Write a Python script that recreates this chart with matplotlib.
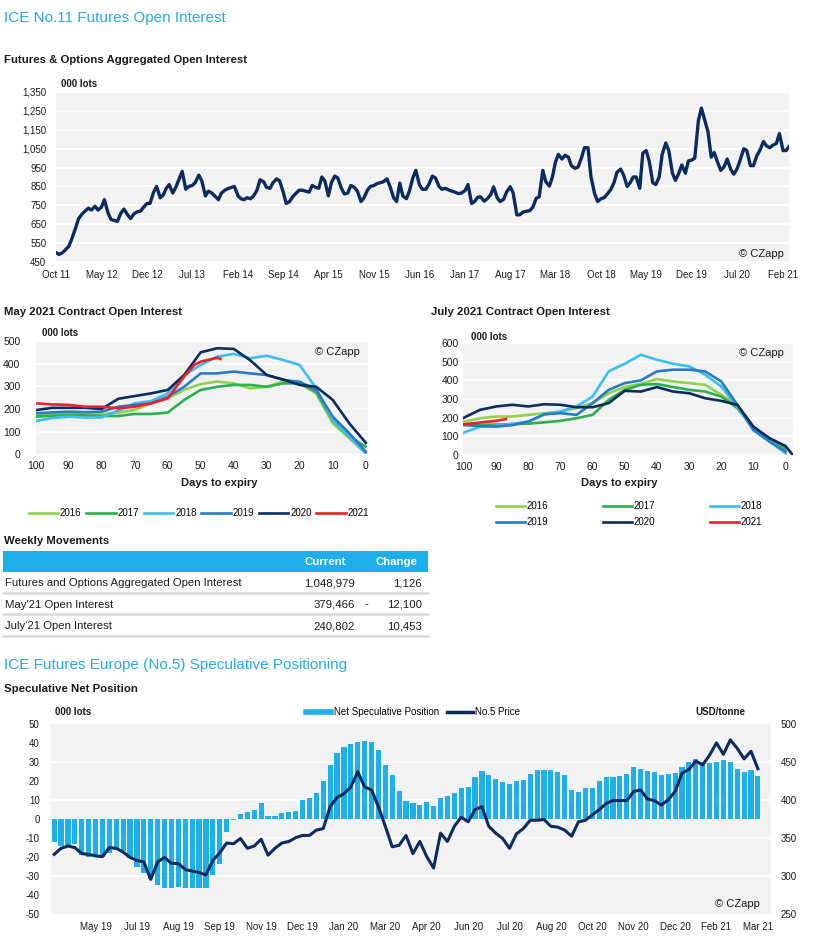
import numpy as np
import pandas as pd
import matplotlib
matplotlib.use('Agg')
from matplotlib import pyplot as plt
from matplotlib.lines import Line2D
from matplotlib.patches import Rectangle
from matplotlib.ticker import FuncFormatter

# ---------------- data ----------------
# Futures & Options aggregated open interest ('000 lots), semi-monthly from Oct 2011
oi_values = [
    500, 490, 500, 515, 535, 575, 630, 680, 705, 720, 735, 725, 745, 725, 740, 780,
    710, 675, 670, 665, 710, 730, 700, 680, 705, 715, 720, 740, 760, 760, 820, 850,
    790, 805, 840, 860, 815, 845, 890, 930, 835, 850, 855, 870, 910, 880, 800, 825,
    815, 800, 780, 815, 830, 838, 845, 850, 800, 785, 780, 790, 785, 800, 830, 885,
    875, 845, 840, 870, 890, 880, 820, 760, 770, 795, 815, 830, 830, 825, 820, 855,
    845, 840, 900, 880, 800, 870, 905, 895, 840, 810, 815, 855, 845, 825, 770, 790,
    830, 850, 855, 865, 870, 875, 890, 850, 790, 770, 868, 800, 785, 825, 895, 935,
    860, 835, 835, 860, 905, 895, 850, 835, 840, 832, 825, 820, 812, 815, 828, 860,
    760, 770, 792, 795, 772, 785, 805, 848, 790, 770, 782, 820, 849, 815, 700, 700,
    715, 718, 722, 740, 787, 795, 935, 875, 852, 900, 978, 1020, 995, 1015, 1005, 960,
    946, 952, 1000, 1055, 1055, 900, 812, 770, 785, 790, 812, 832, 870, 925, 942, 910,
    850, 870, 900, 900, 840, 1026, 1040, 985, 870, 860, 900, 1020, 1080, 1040, 920, 882,
    920, 964, 920, 985, 990, 1000, 1200, 1265, 1195, 1140, 1005, 1030, 975, 935, 955, 995,
    940, 915, 945, 990, 1050, 1040, 960, 960, 1012, 1040, 1088, 1065, 1055, 1068, 1078, 1130,
    1040, 1040, 1061,
]

years = ['2016', '2017', '2018', '2019', '2020', '2021']
days = list(range(100, -1, -5))

# May 2021 contract open interest ('000 lots) by days to expiry
may_2016 = [174, 178, 181, 178, 178, 184, 196, 225, 247, 284, 310, 321, 313, 291, 298, 321, 313, 268, 137, 71, 4]
may_2017 = [166, 170, 174, 172, 169, 169, 178, 178, 184, 240, 284, 298, 306, 306, 298, 313, 313, 276, 151, 78, 34]
may_2018 = [147, 160, 166, 162, 163, 193, 225, 235, 269, 350, 394, 431, 443, 424, 435, 416, 394, 291, 151, 78, 5]
may_2019 = [181, 185, 188, 186, 188, 210, 218, 225, 254, 298, 357, 357, 365, 357, 350, 328, 320, 284, 166, 93, 12]
may_2020 = [195, 205, 205, 205, 200, 245, 257, 269, 284, 350, 450, 468, 465, 415, 350, 330, 306, 298, 240, 137, 51]
may_2021_days = [100, 95, 90, 85, 80, 75, 70, 65, 60, 55, 52, 50, 45, 44]
may_2021 = [225, 220, 218, 210, 210, 203, 210, 225, 247, 343, 394, 409, 426, 421]

# July 2021 contract open interest ('000 lots)
jul_2016 = [179, 197, 206, 206, 215, 224, 233, 251, 278, 331, 364, 381, 407, 394, 385, 376, 322, 269, 134, 81, 30]
jul_2017 = [161, 162, 163, 165, 168, 175, 183, 197, 215, 296, 349, 376, 380, 364, 349, 340, 313, 251, 143, 90, 36]
jul_2018 = [120, 152, 156, 167, 179, 218, 233, 260, 313, 448, 489, 537, 510, 489, 475, 430, 367, 260, 134, 72, 9]
jul_2019 = [161, 155, 152, 160, 179, 218, 224, 215, 278, 349, 385, 400, 448, 457, 457, 448, 394, 269, 134, 72, 18]
jul_2020_days = days + [-2]
jul_2020 = [200, 242, 260, 269, 260, 272, 269, 256, 256, 278, 344, 340, 364, 340, 331, 304, 290, 269, 152, 90, 48, 5]
jul_2021_days = [100, 95, 90, 87]
jul_2021 = [165, 174, 183, 192]

# weekly movements table
row_labels = ['Futures and Options Aggregated Open Interest', "May'21 Open Interest", "July'21 Open Interest"]
current = [1048979, 379466, 240802]
change = [1126, -12100, 10453]

# No.5 speculative positioning, weekly
net_spec = [
    -12.5, -14.3, -14.3, -13.4, -19, -20, -20, -20.3, -18.2, -16.4, -17, -20.8, -25.2, -28.7,
    -32, -35, -36.3, -36.3, -35.8, -36.7, -36.7, -36.3, -36.7, -29.6, -23.8, -7.2, -0.5, 2.6,
    3.4, 4.8, 8.3, 1.2, 1.6, 3, 3.7, 4.2, 10, 11, 13.6, 19.8, 28.2, 34.7, 37.9, 39.5,
    40.6, 41.1, 40.4, 36.2, 28.2, 23.3, 14.8, 9.2, 8.3, 7.2, 9, 6.5, 10.8, 11.8,
    13.6, 16.2, 16.6, 22, 25, 23.3, 21, 19.6, 18.3, 20.1, 20.3, 23.6, 25.6, 25.9,
    25.6, 24.7, 23.3, 15, 14.1, 16, 16, 19.8, 21.9, 21.9, 22.8, 23.6, 27.2, 26.5,
    25, 24.5, 22.9, 23.5, 24.2, 27.2, 30.2, 31.6, 30, 29.3, 29.8, 30.9, 29.8, 26.5,
    24.9, 25.7, 22.4,
]
no5_price = [
    328, 336, 339, 337, 329, 328, 326, 325, 337, 336, 331, 324, 320, 318, 295, 318,
    324, 316, 316, 308, 306, 304, 301, 320, 330, 343, 342, 349, 336, 339, 348, 327,
    336, 343, 345, 350, 353, 353, 360, 362, 391, 403, 408, 417, 437, 417, 413, 391,
    365, 338, 340, 353, 329, 345, 325, 310, 356, 345, 365, 377, 371, 387, 391, 365,
    356, 349, 336, 355, 362, 373, 373, 374, 365, 364, 360, 352, 371, 373, 380, 387,
    395, 399, 399, 399, 411, 413, 401, 399, 393, 400, 411, 435, 440, 451, 446, 459,
    475, 460, 479, 468, 454, 464, 441,
]
weeks = pd.date_range('2019-04-09', periods=len(net_spec), freq='7D')

# ---------------- style ----------------
W, H = 817, 946
plt.rcParams['font.family'] = ['Liberation Sans', 'DejaVu Sans']
plt.rcParams['axes.unicode_minus'] = False

TITLE_BLUE = '#29A8E0'
GRAY = '#F2F2F2'
NAVY = '#0C2B5E'
BAR_BLUE = '#1FB0EA'
TXT = '#1A1A1A'
colors = ['#92D050', '#2DB04B', '#3DBEF0', '#2A7BC6', '#0C2B5E', '#F0202A']
HEAD = 8.2   # bold section headings


def fx(px):
    return px / W


def fy(py):
    return 1 - py / H


def box(l, t, r, b):
    return [l / W, 1 - b / H, (r - l) / W, (b - t) / H]


def style(ax, size=7):
    ax.set_facecolor(GRAY)
    for s in ax.spines.values():
        s.set_visible(False)
    ax.tick_params(length=0, labelsize=size, colors=TXT)
    ax.set_axisbelow(True)


fig = plt.figure(figsize=(W / 100, H / 100), dpi=100)

# ---------------- top: aggregated open interest ----------------
fig.text(fx(4), fy(18), 'ICE No.11 Futures Open Interest', color=TITLE_BLUE, size=11,
         va='center')
fig.text(fx(4), fy(60), 'Futures & Options Aggregated Open Interest', weight='bold', size=HEAD,
         va='center', color=TXT)
fig.text(fx(61), fy(84), '000 lots', weight='bold', size=7, va='center', color=TXT)

ax1 = fig.add_axes(box(56, 92, 789, 262))
style(ax1)
oi_dates = pd.date_range('2011-10-01', periods=len(oi_values), freq='SMS')
ax1.plot(oi_dates, oi_values, color=NAVY, lw=2.4, solid_joinstyle='round')
ax1.set_ylim(450, 1350)
ax1.set_yticks(range(450, 1351, 100))
ax1.yaxis.set_major_formatter(FuncFormatter(lambda v, p: f'{int(v):,}'))
ax1.grid(axis='y', color='white', lw=1.3)
ax1.set_xlim(pd.Timestamp('2011-10-01'), pd.Timestamp('2021-03-01'))
oi_ticks = pd.date_range('2011-10-01', periods=17, freq='7MS')
ax1.set_xticks(oi_ticks)
ax1.set_xticklabels([d.strftime('%b %y') for d in oi_ticks])
ax1.tick_params(axis='y', pad=7)
ax1.tick_params(axis='x', pad=6)
ax1.text(0.962, 0.05, '\u00a9 CZapp', transform=ax1.transAxes, ha='center', va='center',
         size=8, color=TXT)

# ---------------- May 2021 contract ----------------
fig.text(fx(4), fy(312), 'May 2021 Contract Open Interest', weight='bold', size=HEAD,
         va='center', color=TXT)
fig.text(fx(42), fy(333), '000 lots', weight='bold', size=7, va='center', color=TXT)
ax2 = fig.add_axes(box(35.7, 341, 367.7, 454.3))
style(ax2, 7.5)
may_series = [may_2016, may_2017, may_2018, may_2019, may_2020]
for yr, vals, c in zip(years[:5], may_series, colors[:5]):
    ax2.plot(days, vals, color=c, lw=1.9, label=yr)
ax2.plot(may_2021_days, may_2021, color=colors[5], lw=1.9, label=years[5])
ax2.set_xlim(100, -0.6)
ax2.set_ylim(0, 500)
ax2.set_xticks(range(100, -1, -10))
ax2.set_yticks(range(0, 501, 100))
ax2.grid(axis='y', color='white', lw=1.3)
ax2.tick_params(axis='y', pad=11)
ax2.tick_params(axis='x', pad=5)
fig.text(fx(219), fy(483), 'Days to expiry', weight='bold', size=8, ha='center', va='center', color=TXT)
fig.text(fx(337.5), fy(352), '\u00a9 CZapp', ha='center', va='center', size=8, color=TXT)
ax2.legend(loc='center', bbox_to_anchor=(fx(199), fy(513)), bbox_transform=fig.transFigure,
           ncol=6, frameon=False, fontsize=7, handlelength=3, handletextpad=0.2,
           columnspacing=0.5)

# ---------------- July 2021 contract ----------------
fig.text(fx(431), fy(312), 'July 2021 Contract Open Interest', weight='bold', size=HEAD,
         va='center', color=TXT)
fig.text(fx(471), fy(337), '000 lots', weight='bold', size=7, va='center', color=TXT)
ax3 = fig.add_axes(box(463, 343, 793, 455))
style(ax3, 7.5)
jul_lines = {}
for yr, vals, c in zip(years[:4], [jul_2016, jul_2017, jul_2018, jul_2019], colors[:4]):
    jul_lines[yr], = ax3.plot(days, vals, color=c, lw=1.9)
jul_lines['2020'], = ax3.plot(jul_2020_days, jul_2020, color=colors[4], lw=1.9)
jul_lines['2021'], = ax3.plot(jul_2021_days, jul_2021, color=colors[5], lw=1.9)
ax3.set_xlim(100.3, -2.3)
ax3.set_ylim(0, 600)
ax3.set_xticks(range(100, -1, -10))
ax3.set_yticks(range(0, 601, 100))
ax3.grid(axis='y', color='white', lw=1.3)
ax3.tick_params(axis='y', pad=3)
ax3.tick_params(axis='x', pad=5)
fig.text(fx(619), fy(483), 'Days to expiry', weight='bold', size=8, ha='center', va='center', color=TXT)
fig.text(fx(761), fy(353), '\u00a9 CZapp', ha='center', va='center', size=8, color=TXT)
order = ['2016', '2019', '2017', '2020', '2018', '2021']
ax3.legend([jul_lines[k] for k in order], order, loc='center',
           bbox_to_anchor=(fx(629), fy(514)), bbox_transform=fig.transFigure,
           ncol=3, frameon=False, fontsize=7, handlelength=3, handletextpad=0.2,
           columnspacing=5.6, labelspacing=0.6)

# ---------------- weekly movements table ----------------
tb = fig.add_axes(box(0, 530, 430, 640))
tb.set_xlim(0, 430)
tb.set_ylim(640, 530)
tb.axis('off')
tb.text(4, 541, 'Weekly Movements', weight='bold', size=HEAD, va='center', color=TXT)
tb.add_patch(Rectangle((3, 551), 425, 21, color='#1EAEE8', lw=0))
tb.text(325, 562, 'Current', color='white', weight='bold', size=8.2, ha='center', va='center')
tb.text(396, 562, 'Change', color='white', weight='bold', size=8.2, ha='center', va='center')
for i, (lab, cur, chg) in enumerate(zip(row_labels, current, change)):
    yy = 583 + i * 21.5
    tb.text(5, yy, lab, size=8.2, va='center', color=TXT)
    tb.text(355, yy, f'{cur:,}', size=8.2, va='center', ha='right', color=TXT)
    if chg < 0:
        tb.text(366, yy, '-', size=8.2, va='center', ha='center', color=TXT)
    tb.text(422, yy, f'{abs(chg):,}', size=8.2, va='center', ha='right', color=TXT)
    tb.plot([3, 428], [yy + 9.5, yy + 9.5], color='#D9D9D9', lw=1.8)

# ---------------- speculative positioning ----------------
fig.text(fx(4), fy(665), 'ICE Futures Europe (No.5) Speculative Positioning', color=TITLE_BLUE,
         size=11, va='center')
fig.text(fx(4), fy(689), 'Speculative Net Position', weight='bold', size=HEAD, va='center', color=TXT)
fig.text(fx(55), fy(712), '000 lots', weight='bold', size=7, va='center', color=TXT)
fig.text(fx(745), fy(712), 'USD/tonne', weight='bold', size=7, va='center', ha='right', color=TXT)

ax5 = fig.add_axes(box(50.7, 724, 771, 913.5))
style(ax5)
xi = np.arange(len(net_spec))
ax5.bar(xi, net_spec, width=0.75, color=BAR_BLUE, zorder=2)
ax5.set_ylim(-50, 50)
ax5.set_yticks(range(-50, 51, 10))
ax5.set_xlim(-0.5, len(net_spec) + 0.9)
tick_idx = list(range(6, len(net_spec), 6))
ax5.set_xticks(tick_idx)
ax5.set_xticklabels([weeks[i].strftime('%b %y') for i in tick_idx])
ax5.tick_params(axis='y', pad=8)
ax5.tick_params(axis='x', pad=6)

ax6 = ax5.twinx()
for s in ax6.spines.values():
    s.set_visible(False)
ax6.plot(xi, no5_price, color=NAVY, lw=2.2, solid_joinstyle='round')
p_lo, p_hi = 250, 500
ax6.set_ylim(p_lo, p_hi)
ax6.set_yticks(range(p_lo, p_hi + 1, 50))
ax6.tick_params(length=0, labelsize=7, colors=TXT, pad=7)
# white gridlines follow the price axis, drawn behind the bars
for p in range(p_lo + 50, p_hi, 50):
    ax5.axhline(-50 + (p - p_lo) / (p_hi - p_lo) * 100, color='white', lw=1.3, zorder=1)
fig.text(fx(737.5), fy(904), '\u00a9 CZapp', ha='center', va='center', size=8, color=TXT)

leg_handles = [Line2D([], [], color=BAR_BLUE, lw=4), Line2D([], [], color=NAVY, lw=2.5)]
fig.legend(leg_handles, ['Net Speculative Position', 'No.5 Price'], loc='center',
           bbox_to_anchor=(fx(413), fy(712)), ncol=2, frameon=False, fontsize=7,
           handlelength=2.6, handletextpad=0.25, columnspacing=0.9)

fig.savefig('out.png', dpi=100)
